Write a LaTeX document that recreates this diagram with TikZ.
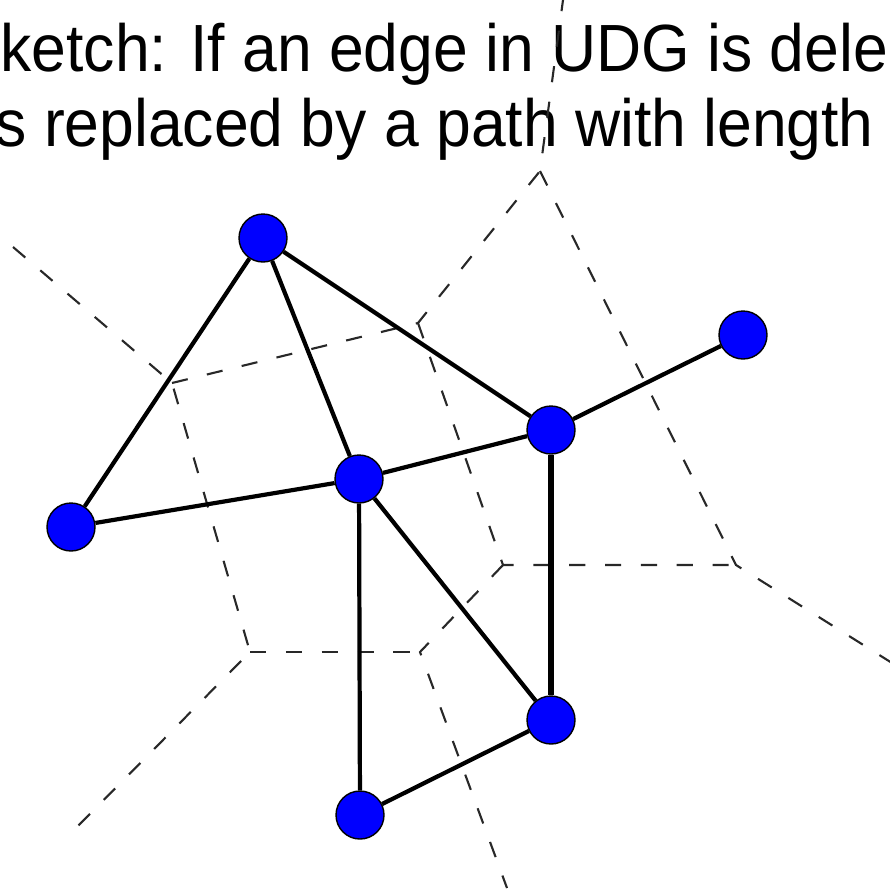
\documentclass[tikz,border=0pt]{standalone}
\usepackage{fontspec}
\setmainfont{Liberation Sans}
\definecolor{cellgray}{RGB}{40,40,40}

\begin{document}
\begin{tikzpicture}[x=1cm,y=1cm,
    site/.style={circle,draw=black,fill=blue,line width=.4pt,
      minimum size=.48cm,inner sep=0pt},
    link/.style={black,line width=1.2pt},
    cell/.style={cellgray,line width=.6pt,dash pattern=on 4.6pt off 5.6pt},
    caption/.style={anchor=base west,inner sep=0pt,xscale=.935,
      font=\fontsize{19}{21}\selectfont}]
    \useasboundingbox (0,0) rectangle (8.9,8.88);
    \clip (0,0) rectangle (8.9,8.88);

    \node[caption] (capa) at (0,8.17) {ketch: If an edge in UDG is dele};
    \node[caption] (capb) at (-.05,7.42) {s replaced by a path with length};

    % cell corners and where the cell borders leave the frame
    \coordinate (v1) at (1.72,5.05);
    \coordinate (v2) at (4.18,5.65);
    \coordinate (v3) at (5.40,7.17);
    \coordinate (v4) at (7.36,3.23);
    \coordinate (v5) at (5.03,3.23);
    \coordinate (v6) at (2.50,2.36);
    \coordinate (v7) at (4.20,2.36);
    \coordinate (e1) at (.13,6.41);
    \coordinate (e2) at (5.63,8.88);
    \coordinate (e3) at (9.0,2.20);
    \coordinate (e4) at (5.07,0);
    \coordinate (e5) at (.74,.58);
    \draw[cell] (e1)--(v1)--(v6)--(e5);
    \draw[cell] (v1)--(v2)--(v3)--(e2);
    \draw[cell] (v3)--(v4)--(e3);
    \draw[cell] (v2)--(v5)--(v4);
    \draw[cell] (v5)--(v7)--(e4);
    \draw[cell] (v6)--(v7);

    \node[site] (nt) at (2.63,6.50) {};
    \node[site] (nl) at (.71,3.61) {};
    \node[site] (nc) at (3.59,4.09) {};
    \node[site] (nr) at (5.51,4.58) {};
    \node[site] (nf) at (7.43,5.53) {};
    \node[site] (nd) at (5.51,1.68) {};
    \node[site] (nb) at (3.60,.73) {};
    \draw[link] (nt)--(nl) (nt)--(nc) (nt)--(nr) (nl)--(nc) (nc)--(nr)
      (nr)--(nf) (nc)--(nd) (nc)--(nb) (nb)--(nd);
    \draw[link,line width=1.9pt] (nr)--(nd);
  \end{tikzpicture}
\end{document}
